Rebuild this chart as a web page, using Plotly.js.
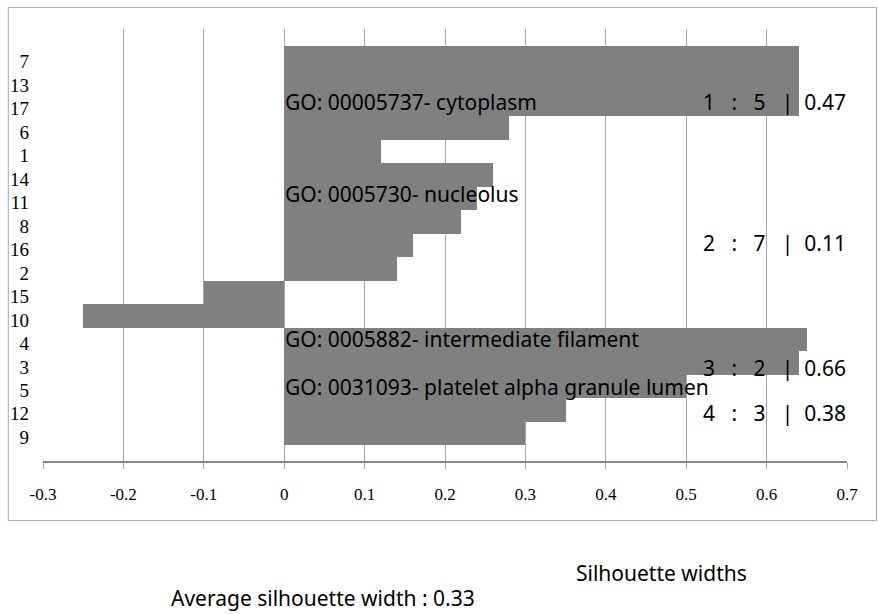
<!DOCTYPE html>
<html>
<head>
<meta charset="utf-8">
<script src="https://cdn.plot.ly/plotly-3.0.1.min.js"></script>
<style>html,body{margin:0;padding:0;background:#fff;}#chart{width:878px;height:614px;}</style>
</head>
<body>
<div id="chart"></div>
<script>
// Cluster members, top to bottom
var categories = ["7","13","17","6","1","14","11","8","16","2","15","10","4","3","5","12","9"];
var silhouetteValues = [0.64,0.64,0.64,0.28,0.12,0.26,0.24,0.22,0.16,0.14,-0.10,-0.25,0.65,0.64,0.50,0.35,0.30];
var xTickVals = [-0.3,-0.2,-0.1,0,0.1,0.2,0.3,0.4,0.5,0.6,0.7];
var xTickText = ["-0.3","-0.2","-0.1","0","0.1","0.2","0.3","0.4","0.5","0.6","0.7"];
var goLabels = ["GO: 00005737- cytoplasm","GO: 0005730- nucleolus","GO: 0005882- intermediate filament","GO: 0031093- platelet alpha granule lumen"];
var goLabelY = [0.832,0.617,0.282,0.172];
var clusterIds = ["1","2","3","4"];
var clusterSizes = ["5","7","2","3"];
var clusterAvg = ["0.47","0.11","0.66","0.38"];
var clusterLabelY = [0.832,0.504,0.215,0.110];
var avgWidth = "0.33";

var NB = "\u00a0";
var sp3 = NB+NB+NB;
var calFont = "Noto Sans, Open Sans, sans-serif";
var annotations = [];
goLabels.forEach(function(t,i){
  annotations.push({text:t, x:0, xref:"x", xanchor:"left", y:goLabelY[i], yref:"paper", yanchor:"middle",
    showarrow:false, borderpad:0, font:{family:calFont, size:21, color:"#000"}});
});
clusterIds.forEach(function(c,i){
  var t = c + sp3 + ":" + sp3 + clusterSizes[i] + sp3 + "|" + NB + NB + clusterAvg[i];
  annotations.push({text:t, x:0.7, xref:"x", xanchor:"right", y:clusterLabelY[i], yref:"paper", yanchor:"middle",
    showarrow:false, borderpad:0, font:{family:calFont, size:21, color:"#000"}});
});
annotations.push({text:"Silhouette widths", x:0.6617, xref:"paper", xanchor:"left", y:-0.26, yref:"paper", yanchor:"middle",
  showarrow:false, borderpad:0, font:{family:calFont, size:21, color:"#000"}});
annotations.push({text:"Average silhouette width : " + avgWidth, x:0.158, xref:"paper", xanchor:"left", y:-0.3171, yref:"paper", yanchor:"middle",
  showarrow:false, borderpad:0, font:{family:calFont, size:21, color:"#000"}});

var trace = {
  type:"bar", orientation:"h", y:categories, x:silhouetteValues,
  marker:{color:"#808080", line:{width:0}}, hoverinfo:"x+y"
};

var layout = {
  width:878, height:614,
  margin:{l:43, r:31, t:29, b:153, pad:0},
  paper_bgcolor:"#fff", plot_bgcolor:"#fff",
  showlegend:false, bargap:0,
  xaxis:{range:[-0.3,0.7], tickvals:xTickVals, ticktext:xTickText, showgrid:true, gridcolor:"#a6a6a6", gridwidth:1,
    zeroline:false, showline:true, linecolor:"#868686", linewidth:2, ticks:"outside", ticklen:6, tickcolor:"#a6a6a6",
    ticklabelstandoff:11, tickfont:{family:"Liberation Serif, Times New Roman, serif", size:17, color:"#000"}},
  yaxis:{type:"category", categoryorder:"array", categoryarray:categories, range:[17.18,-1.223],
    showgrid:false, zeroline:false, showline:false, ticks:"", ticklabelstandoff:13, ticklabelshift:-4,
    tickfont:{family:"Liberation Serif, Times New Roman, serif", size:19, color:"#000"}},
  annotations:annotations,
  shapes:[{type:"rect", xref:"paper", yref:"paper", x0:-0.0432, x1:1.0367, y0:-0.138, y1:1.050,
    line:{color:"#a6a6a6", width:1}, fillcolor:"rgba(0,0,0,0)", layer:"below"}]
};
Plotly.newPlot("chart",[trace],layout,{displayModeBar:false, staticPlot:true});
</script>
</body>
</html>
